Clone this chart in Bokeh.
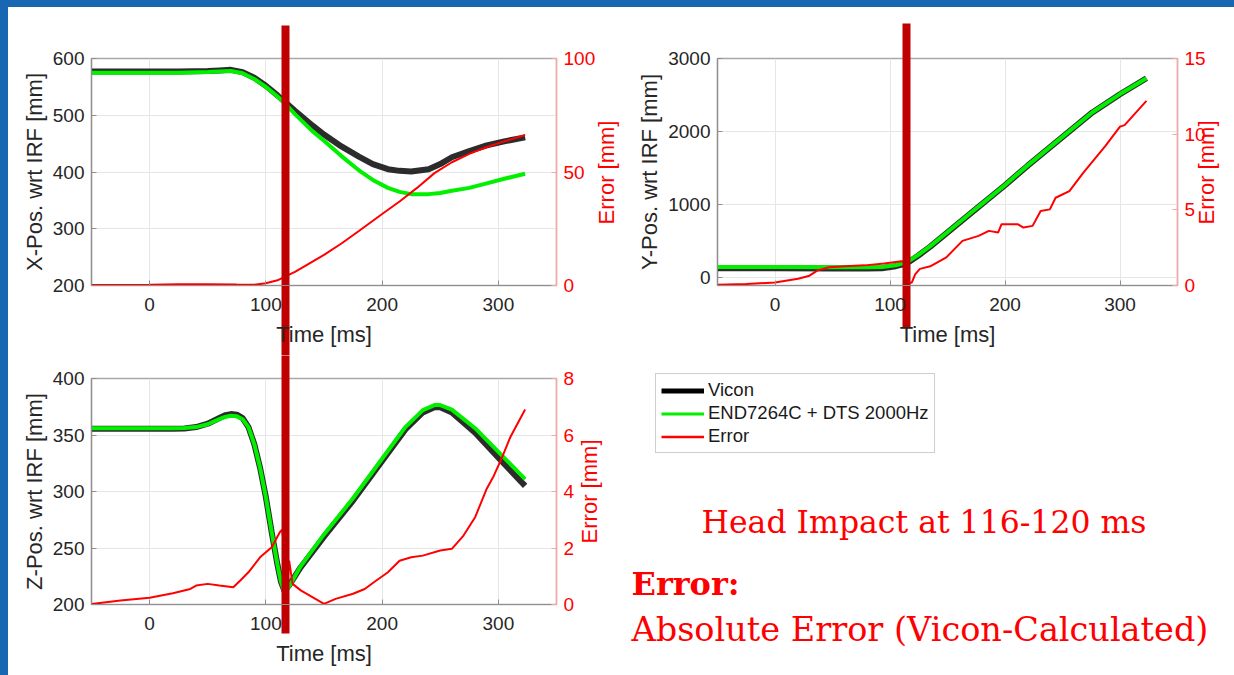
import math
from bokeh.plotting import figure
from bokeh.models import (Range1d, LinearAxis, FixedTicker, Label, Legend,
                          LegendItem, Spacer)
from bokeh.layouts import column, row
from bokeh.embed import file_html
from bokeh.resources import INLINE

# ------------------------------------------------------------------ data
x_ticks = [0, 100, 200, 300]

# X position (top left)
t_x = [-50, -25, 0, 25, 50, 60, 70, 80, 90, 100, 110, 116, 125, 140, 150, 165,
       180, 192, 205, 215, 225, 240, 250, 260, 275, 290, 305, 323]
vicon_x = [577, 577, 577, 577, 578, 579, 580, 576, 566, 552, 535, 524, 508, 482,
           466, 445, 427, 414, 405, 402, 401, 405, 414, 426, 437, 447, 454, 461]
calc_x = [575, 575, 575, 575, 576, 577, 578, 574, 564, 550, 533, 522, 502, 472,
          455, 428, 403, 386, 372, 365, 361, 361, 363, 367, 372, 380, 388, 397]
t_err_x = [-50, -25, 0, 25, 50, 75, 90, 100, 110, 116, 125, 135, 150, 165, 180,
           200, 215, 230, 245, 260, 275, 290, 305, 323]
err_x = [0.2, 0.2, 0.3, 0.6, 0.6, 0.4, 0.3, 1.0, 2.3, 3.8, 6.0, 9.0, 13.5, 18.5,
         24.0, 31.5, 37.0, 43.0, 49.5, 54.3, 58.0, 61.0, 63.5, 66.3]
x_pos_ticks = [200, 300, 400, 500, 600]
x_err_ticks = [0, 50, 100]

# Y position (top right)
t_y = [-50, 0, 50, 80, 93, 105, 112, 117, 125, 135, 149, 177, 200, 220, 248,
       276, 300, 323]
vicon_y = [120, 120, 118, 118, 123, 150, 180, 215, 300, 418, 600, 964, 1260,
           1533, 1897, 2260, 2510, 2729]
calc_y = [138, 138, 136, 136, 140, 163, 192, 228, 310, 425, 605, 968, 1265,
          1537, 1900, 2262, 2512, 2730]
t_err_y = [-50, -25, 0, 20, 30, 37, 47, 61, 78, 95, 110, 114, 116, 119, 122,
           126, 135, 149, 163, 177, 186, 194, 197, 211, 216, 224, 231, 239, 244,
           256, 268, 287, 300, 304, 323]
err_y = [0.05, 0.1, 0.2, 0.45, 0.65, 1.0, 1.2, 1.28, 1.33, 1.45, 1.6, 1.55, 0.15,
         0.2, 0.75, 1.1, 1.27, 1.86, 2.95, 3.28, 3.61, 3.5, 4.05, 4.05, 3.83,
         3.94, 4.92, 5.03, 5.8, 6.24, 7.44, 9.19, 10.5, 10.6, 12.2]
y_pos_ticks = [0, 1000, 2000, 3000]
y_err_ticks = [0, 5, 10, 15]

# Z position (bottom left)
t_z = [-50, -25, 0, 20, 30, 40, 50, 60, 65, 70, 75, 80, 85, 90, 95, 100, 105,
       110, 113, 116, 120, 130, 150, 175, 200, 220, 235, 245, 250, 260, 280,
       300, 323]
vicon_z = [355.5, 355.5, 355.5, 355.5, 355.8, 357, 360, 365, 367.5, 368.5, 368,
           365, 357, 342, 321, 295, 264, 235, 220, 212, 217, 233, 260, 292, 327,
           355, 370, 374.5, 374.5, 370, 352, 330, 305]
calc_z = [356, 356, 356, 356, 356.3, 357, 359.5, 364, 366, 367, 366.5, 364, 357,
          342, 321, 295, 264, 235, 220, 211, 216, 234, 262, 294, 329, 357, 372,
          376.5, 376.5, 372.5, 356, 335, 311]
t_err_z = [-50, -25, 0, 20, 35, 40, 50, 60, 72, 78, 85, 95, 105, 112, 114, 119,
           120, 123, 130, 140, 150, 160, 175, 185, 195, 205, 215, 225, 235, 250,
           260, 270, 280, 290, 296, 303, 310, 323]
err_z = [0.02, 0.14, 0.24, 0.4, 0.55, 0.67, 0.73, 0.67, 0.61, 0.85, 1.14, 1.67,
         2.03, 2.56, 2.65, 1.0, 1.55, 0.73, 0.5, 0.26, 0.02, 0.2, 0.38, 0.55,
         0.85, 1.14, 1.55, 1.67, 1.73, 1.91, 1.97, 2.44, 3.09, 4.1, 4.55, 5.19,
         5.9, 6.9]
z_pos_ticks = [200, 250, 300, 350, 400]
z_err_ticks = [0, 2, 4, 6, 8]

# hand-drawn head-impact markers (ms)
impact_left_ms = [116.6]
impact_right_ms = [114.5]

series_names = ["Vicon", "END7264C + DTS 2000Hz", "Error"]
err_axis_label = "Error [mm]"

# ------------------------------------------------------------------ style
FONT = "Liberation Sans"
SERIF = "DejaVu Serif"
AX_GREY = "#8f8f8f"
TXT_DARK = "#262626"
RED = "#ff0000"
BAR_RED = "#c00000"
BLACK = "#1a1a1a"
GREEN = "#00f000"
BLUE = "#1767b3"
AXIS_PROPS = LinearAxis.properties()
HAS_ORIENT = "axis_label_orientation" in AXIS_PROPS
HAS_ALIGN = "axis_label_align" in AXIS_PROPS
NBSP = "\u00a0"


def style_axis(ax, text_color, line_color):
    ax.major_label_text_font = FONT
    ax.major_label_text_font_size = "19px"
    ax.major_label_text_color = text_color
    ax.axis_line_color = line_color
    ax.axis_line_width = 1.2
    ax.major_tick_line_color = line_color
    ax.major_tick_in = 5
    ax.major_tick_out = 0
    ax.minor_tick_line_color = None
    ax.major_label_standoff = 8
    ax.axis_label_text_font = FONT
    ax.axis_label_text_font_style = "normal"
    ax.axis_label_text_font_size = "22px"
    ax.axis_label_text_color = text_color
    ax.axis_label_standoff = 3


def no_align(p):
    if "frame_align" in p.properties():
        p.frame_align = False


def make_panel(width, height, borders, y_rng, y_ticks, e_rng, e_ticks, y_label,
               err_standoff):
    left, right, top, bottom = borders
    p = figure(width=width, height=height, output_backend="svg",
               toolbar_location=None, x_range=Range1d(-50, 350),
               y_range=Range1d(*y_rng), min_border_left=left,
               min_border_right=right, min_border_top=top,
               min_border_bottom=bottom)
    no_align(p)
    p.extra_y_ranges = {"err": Range1d(*e_rng)}
    p.outline_line_color = "#a8a8a8"
    p.outline_line_width = 1.5
    p.background_fill_color = "white"
    p.border_fill_color = "white"

    xa = p.xaxis[0]
    ya = p.yaxis[0]
    xa.ticker = FixedTicker(ticks=x_ticks, minor_ticks=[])
    ya.ticker = FixedTicker(ticks=y_ticks, minor_ticks=[])
    xa.axis_label = "Time [ms]"
    ya.axis_label = y_label
    style_axis(xa, TXT_DARK, AX_GREY)
    style_axis(ya, TXT_DARK, AX_GREY)
    xa.major_label_standoff = 12
    xa.axis_label_standoff = 8
    ya.major_label_standoff = 7

    ra = LinearAxis(y_range_name="err",
                    ticker=FixedTicker(ticks=e_ticks, minor_ticks=[]))
    style_axis(ra, RED, "#ffa3a3")
    ra.major_label_standoff = 7
    ra.axis_label_standoff = err_standoff
    label = err_axis_label
    if HAS_ORIENT:
        # read bottom-to-top like the MATLAB right-hand ylabel
        ra.axis_label_orientation = math.pi / 2
        if HAS_ALIGN:
            ra.axis_label_align = "start"
            label = NBSP * 10 + err_axis_label
    ra.axis_label = label
    p.add_layout(ra, "right")

    p.xgrid.ticker = FixedTicker(ticks=x_ticks, minor_ticks=[])
    p.ygrid.ticker = FixedTicker(ticks=y_ticks, minor_ticks=[])
    p.xgrid.grid_line_color = "#e6e6e6"
    p.ygrid.grid_line_color = "#e6e6e6"
    fh = height - top - bottom
    return p, fh


def add_series(p, t, pos, tc, cpos, te, err):
    r1 = p.line(t, pos, line_color=BLACK, line_width=6, line_alpha=0.92)
    r2 = p.line(tc, cpos, line_color=GREEN, line_width=4)
    r3 = p.line(te, err, line_color=RED, line_width=2, y_range_name="err")
    return r1, r2, r3


def add_impact_bar(p, t_ms, above_px, below_frame_top_px):
    # the hand-drawn dark red marker: one wide tick of an extra top axis
    bar = LinearAxis(ticker=FixedTicker(ticks=t_ms, minor_ticks=[]))
    bar.axis_line_color = None
    bar.minor_tick_line_color = None
    bar.major_tick_line_color = BAR_RED
    bar.major_tick_line_width = 8
    bar.major_tick_line_cap = "butt"
    bar.major_tick_out = above_px
    bar.major_tick_in = below_frame_top_px
    bar.major_label_overrides = {t: "" for t in t_ms}
    bar.major_label_text_font_size = "0px"
    bar.major_label_standoff = 0
    bar.axis_label = None
    p.add_layout(bar, "above")


# ------------------------------------------------------------------ panels
HTOP = 348
WA = 626
pa, fha = make_panel(WA, HTOP, (83, 72, 51, 70), (200, 600), x_pos_ticks,
                     (0, 100), x_err_ticks, "X-Pos. wrt IRF [mm]", 8)
add_series(pa, t_x, vicon_x, t_x, calc_x, t_err_x, err_x)
add_impact_bar(pa, impact_left_ms, 33, fha + 70)

pb, fhb = make_panel(1226 - WA, HTOP, (78, 51, 51, 70), (-115, 3000),
                     y_pos_ticks, (0, 15), y_err_ticks, "Y-Pos. wrt IRF [mm]",
                     -2)
add_series(pb, t_y, vicon_y, t_y, calc_y, t_err_y, err_y)
add_impact_bar(pb, impact_right_ms, 35, fhb + 42)

HBOT = 320
WC = 609
pc, fhc = make_panel(WC, HBOT, (83, 55, 23, 71), (200, 400), z_pos_ticks,
                     (0, 8), z_err_ticks, "Z-Pos. wrt IRF [mm]", 12)
add_series(pc, t_z, vicon_z, t_z, calc_z, t_err_z, err_z)
add_impact_bar(pc, impact_left_ms, 23, fhc + 29)

# ------------------------------------------------------------------ legend + notes
WD = 1226 - WC
pd = figure(width=WD, height=HBOT, output_backend="svg", toolbar_location=None,
            title=None, x_axis_type=None, y_axis_type=None,
            x_range=Range1d(1000, 1001), y_range=Range1d(1000, 1001),
            min_border_left=0, min_border_right=0, min_border_top=0,
            min_border_bottom=0)
no_align(pd)
pd.outline_line_color = None
pd.xgrid.visible = False
pd.ygrid.visible = False
# legend keys: the Z series again, outside this panel's (empty) view
lk = pd.line(t_z, vicon_z, line_color="black", line_width=5)
lg = pd.line(t_z, calc_z, line_color=GREEN, line_width=3)
lr = pd.line(t_err_z, err_z, line_color=RED, line_width=2.5)
legend = Legend(items=[LegendItem(label=series_names[0], renderers=[lk]),
                       LegendItem(label=series_names[1], renderers=[lg]),
                       LegendItem(label=series_names[2], renderers=[lr])],
                location=(655 - 8 - WC, 222))
legend.border_line_color = "#a0a0a0"
legend.border_line_width = 1.2
legend.background_fill_color = "white"
legend.background_fill_alpha = 1.0
legend.label_text_font = FONT
legend.label_text_font_size = "18.5px"
legend.label_text_color = "#1a1a1a"
legend.glyph_width = 43
legend.glyph_height = 21
legend.label_height = 21
legend.label_standoff = 4
legend.spacing = 1
legend.padding = 5
legend.margin = 0
pd.add_layout(legend)

X0 = 8 + WC
pd.add_layout(Label(x=701 - X0, y=154, x_units="screen", y_units="screen",
                    text="Head Impact at 116-120 ms", text_font=SERIF,
                    text_font_size="31.5px", text_color=RED,
                    text_baseline="alphabetic", text_align="left"))
pd.add_layout(Label(x=631 - X0, y=92, x_units="screen", y_units="screen",
                    text="Error:", text_font=SERIF, text_font_style="bold",
                    text_font_size="32px", text_color=RED,
                    text_baseline="alphabetic", text_align="left"))
pd.add_layout(Label(x=631 - X0, y=46, x_units="screen", y_units="screen",
                    text="Absolute Error (Vicon-Calculated)", text_font=SERIF,
                    text_font_size="33.5px", text_color=RED,
                    text_baseline="alphabetic", text_align="left"))

# ------------------------------------------------------------------ slide frame
left_strip = Spacer(width=8, height=675, styles={"background-color": BLUE})
top_strip = Spacer(width=1226, height=7, styles={"background-color": BLUE})

layout = row(left_strip, column(top_strip, row(pa, pb), row(pc, pd)))
open("out.html", "w").write(file_html(layout, INLINE))
